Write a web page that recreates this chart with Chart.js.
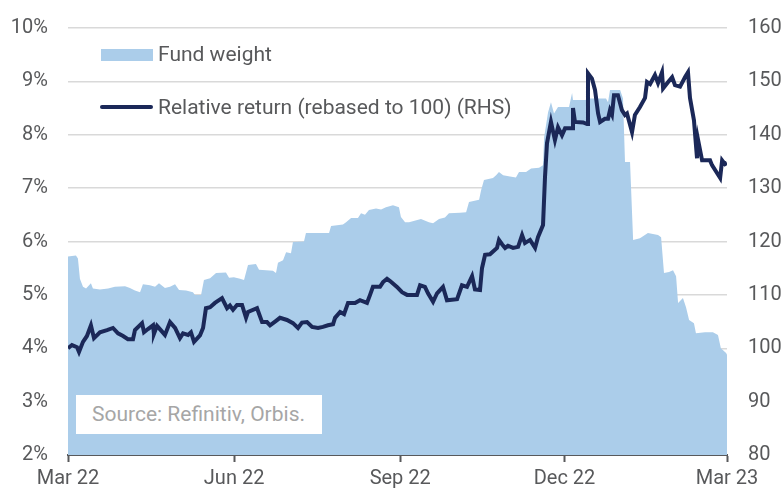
<!DOCTYPE html>
<html>
<head>
<meta charset="utf-8">
<script src="https://cdn.jsdelivr.net/npm/chart.js@4/dist/chart.umd.min.js"></script>
<style>
  body { margin: 0; background: #fff; }
  #wrap { position: relative; width: 781px; height: 489px; font-family: Roboto, sans-serif; }
  .legend-text { position: absolute; left: 158px; font-size: 21px; color: #58595b; line-height: 24px; }
  #src { position: absolute; left: 76px; top: 395px; width: 246px; height: 39px; background: #fff;
         font-size: 21px; color: #a6a6a6; line-height: 39px; padding-left: 16px; box-sizing: border-box; }
</style>
</head>
<body>
<div id="wrap">
  <canvas id="chart" width="781" height="489"></canvas>
  <div style="position:absolute;left:101px;top:49px;width:52px;height:12px;background:#abcdea;"></div>
  <div class="legend-text" style="top:42px;">Fund weight</div>
  <div style="position:absolute;left:100px;top:105px;width:53px;height:4px;border-radius:2px;background:#1b2858;"></div>
  <div class="legend-text" style="top:95px;">Relative return (rebased to 100) (RHS)</div>
  <div id="src">Source: Refinitiv, Orbis.</div>
</div>
<script>
// Days since 1 Mar 2022
const xTickDays = [0, 92, 184, 275, 365];
const xTickLabels = ["Mar 22", "Jun 22", "Sep 22", "Dec 22", "Mar 23"];

// Fund weight (%), left axis
const areaDays = [
  0, 4.4, 5.5, 6.6, 8.3, 10, 12.7, 13.8, 17.7, 22.2, 26, 31.6, 34.3, 37.1, 39.9, 41.5,
  45.4, 48.2, 50.4, 53.7, 56.5, 59.3, 61.5, 65.4, 69.2, 70.3, 73.7, 75.3, 78.7, 82,
  87.5, 89.2, 91.9, 95.3, 97.5, 99.7, 104.1, 105.8, 109.7, 113.5, 115.2, 116.3, 119.1,
  120.8, 123.5, 124.6, 130.7, 131.8, 144.6, 145.7, 152.3, 154, 156.8, 160.6, 162.3,
  164.5, 166.7, 170.6, 173.4, 176.1, 180, 183.3, 184.4, 186.7, 188.9, 195.5, 199.9,
  202.2, 205.5, 208.8, 211, 217.1, 220.5, 222.1, 227.7, 228.8, 230.4, 235.4, 237.1,
  238.7, 241, 244.8, 248.1, 249.8, 253.7, 256.5, 260.9, 263.1, 263.7, 265.9, 267.5,
  269.2, 271.4, 277.5, 279.2, 279.7, 286.9, 289.1, 298, 299.1, 300.2, 305.8, 307.4,
  308.5, 311.3, 313, 316.8, 321.2, 326.8, 328.5, 330.1, 332.9, 335.1, 336.8, 337.9,
  340.6, 342.3, 344, 346.7, 347.8, 352.8, 357.2, 360, 361.6, 364.5, 365
];
const areaWeight = [
  5.72, 5.74, 5.68, 5.3, 5.15, 5.12, 5.22, 5.12, 5.1, 5.12, 5.15, 5.16, 5.13, 5.08, 5.05, 5.2,
  5.18, 5.15, 5.22, 5.13, 5.15, 5.2, 5.09, 5.08, 5.05, 5.0, 5.0, 5.28, 5.31, 5.41,
  5.42, 5.32, 5.33, 5.3, 5.28, 5.56, 5.58, 5.47, 5.46, 5.45, 5.41, 5.6, 5.65,
  5.8, 5.78, 5.99, 6.0, 6.16, 6.16, 6.29, 6.32, 6.36, 6.44, 6.44, 6.53,
  6.5, 6.59, 6.62, 6.6, 6.64, 6.68, 6.64, 6.46, 6.36, 6.36, 6.42, 6.36,
  6.34, 6.42, 6.45, 6.53, 6.54, 6.55, 6.74, 6.78, 6.96, 7.15, 7.19, 7.24,
  7.3, 7.24, 7.22, 7.2, 7.3, 7.3, 7.37, 7.38, 7.43, 7.95, 8.42, 8.61,
  8.4, 8.52, 8.52, 8.78, 8.65, 8.65, 8.68, 8.68, 8.61, 8.84, 8.84, 8.68,
  7.49, 7.49, 6.03, 6.06, 6.16, 6.12, 6.08, 5.41, 5.43, 5.46, 5.35, 4.85,
  4.94, 4.77, 4.53, 4.47, 4.28, 4.3, 4.3, 4.25, 4.0, 3.91, 3.88
];

// Relative return, rebased to 100 (right axis)
const lineDays = [
  0, 2.2, 5, 6.1, 8.3, 10.5, 12.7, 14.4, 17.7, 21.6, 24.9, 27.7, 30.5, 33.2, 36, 37.1,
  41, 42.1, 44.3, 47.1, 47.6, 49.3, 53.7, 56.5, 59.3, 62, 63.7, 66.5, 68.1, 69.8, 73.1,
  74.8, 76.4, 78.7, 81.4, 85.3, 88.1, 89.7, 91.4, 93.6, 96.4, 98.6, 99.7, 104.7, 107.5,
  110.2, 111.9, 114.7, 117.4, 121.3, 124.6, 127.4, 129.6, 132.4, 135.2, 138.5, 141.2,
  144, 146.8, 147.9, 150.7, 152.9, 155.1, 159, 161.7, 165.6, 167.3, 168.9, 172.8, 174.5,
  176.7, 178.4, 182.2, 185, 187.8, 193.3, 195, 197.7, 199.4, 202.2, 204.4, 207.7, 209.9,
  215.5, 218.2, 221, 223.8, 225.4, 228.2, 229.3, 231, 233.7, 237.6, 238.7, 240.4, 242.1,
  243.7, 246.5, 249.3, 251.5, 253.1, 255.9, 258.7, 260.3, 263.1, 264.2, 265.3, 267.5,
  269.7, 271.4, 273.6, 275.3, 279.2, 279.7, 280.8, 285.3, 287.5, 288, 290.2, 291.9, 293.6,
  294.7, 297.4, 299.1, 300.2, 301.3, 302.4, 304.6, 306.8, 308.5, 309.6, 312.4, 314, 316.8,
  319.6, 320.7, 322.4, 325.1, 326.8, 329, 329.6, 332.4, 334.6, 336.2, 339, 341.8, 343.4,
  344.5, 346.7, 348.4, 349, 351.2, 355.6, 356.7, 361.2, 362.3, 363.9, 365
];
const lineReturn = [
  100.0, 100.6, 100.2, 99.3, 101.2, 102.3, 104.3, 101.9, 103.0, 103.4, 103.8, 102.8, 102.3, 101.7, 101.7, 103.4,
  104.7, 103.0, 103.6, 104.3, 102.7, 104.2, 102.5, 104.9, 103.8, 101.9, 102.8, 102.5, 103.0, 101.2, 102.4,
  103.8, 107.5, 107.7, 108.5, 109.4, 107.5, 108.0, 107.2, 108.1, 108.1, 105.7, 106.8, 107.5, 104.9,
  104.9, 104.3, 105.0, 105.7, 105.3, 104.7, 103.8, 104.8, 104.9, 104.0, 103.8, 104.0,
  104.3, 104.5, 105.7, 106.8, 106.4, 108.5, 108.5, 109.0, 108.5, 110.0, 111.5, 111.5, 112.4,
  113.0, 112.6, 111.5, 110.5, 110.0, 110.0, 111.8, 111.5, 110.3, 108.7, 110.3, 111.5, 109.0,
  109.2, 111.8, 111.5, 113.5, 111.0, 110.9, 115.0, 117.5, 117.6, 118.8, 120.3, 119.5, 118.8,
  119.2, 118.8, 119.0, 121.2, 119.7, 120.3, 118.8, 120.8, 123.1, 132.1, 138.4, 142.4,
  139.0, 141.4, 139.9, 141.2, 141.2, 145.0, 142.4, 142.3, 142.0, 151.5, 150.5, 148.4, 144.0,
  142.4, 143.0, 143.0, 144.6, 143.8, 147.4, 147.4, 144.6, 143.7, 144.0, 140.5, 143.7, 145.2,
  146.9, 149.9, 149.5, 151.2, 149.7, 151.7, 148.7, 149.9, 150.8, 149.3, 149.0, 150.8, 151.7,
  146.9, 142.7, 135.6, 139.0, 135.2, 135.2, 134.3, 131.9, 135.2, 134.5, 134.7
];

const tickColor = "#58595b";
const tickFont = { family: "Roboto", size: 20 };

const chart = new Chart(document.getElementById("chart"), {
  type: "line",
  data: {
    datasets: [
      {
        label: "Relative return (rebased to 100) (RHS)",
        data: lineDays.map((d, i) => ({ x: d, y: lineReturn[i] })),
        yAxisID: "y1",
        borderColor: "#1b2858",
        borderWidth: 4,
        pointRadius: 0,
        tension: 0,
        fill: false,
        order: 1,
      },
      {
        label: "Fund weight",
        data: areaDays.map((d, i) => ({ x: d, y: areaWeight[i] })),
        yAxisID: "y",
        backgroundColor: "#abcdea",
        borderWidth: 0,
        pointRadius: 0,
        tension: 0,
        fill: "origin",
        order: 2,
      },
    ],
  },
  options: {
    responsive: false,
    animation: false,
    layout: { padding: { top: 28, left: 0, right: 0, bottom: 0 } },
    plugins: {
      legend: { display: false },
      tooltip: { enabled: false },
    },
    scales: {
      x: {
        type: "linear",
        min: 0,
        max: 365,
        afterBuildTicks: function (scale) {
          scale.ticks = xTickDays.map((v) => ({ value: v }));
        },
        afterFit: function (scale) {
          scale.height = 34;
        },
        ticks: {
          color: tickColor,
          font: tickFont,
          padding: 5,
          maxRotation: 0,
          autoSkip: false,
          callback: function (value) {
            const i = xTickDays.indexOf(value);
            return i >= 0 ? xTickLabels[i] : "";
          },
        },
        grid: {
          drawOnChartArea: false,
          drawTicks: true,
          tickLength: 7,
          tickWidth: 2,
          tickColor: "#58595b",
        },
        border: { display: true, color: "#58595b", width: 2 },
      },
      y: {
        position: "left",
        min: 2,
        max: 10,
        afterFit: function (scale) {
          scale.width = 68;
        },
        ticks: {
          stepSize: 1,
          color: tickColor,
          font: tickFont,
          padding: 2,
          callback: function (value) {
            return value + "%";
          },
        },
        // invisible tick marks push the labels out without adding top padding
        grid: {
          color: "#d9d9d9",
          lineWidth: 1.5,
          drawTicks: true,
          tickLength: 18,
          tickColor: "transparent",
        },
        border: { display: false },
      },
      y1: {
        position: "right",
        min: 80,
        max: 160,
        afterFit: function (scale) {
          scale.width = 54;
        },
        ticks: {
          stepSize: 10,
          color: tickColor,
          font: tickFont,
          padding: 2,
        },
        grid: {
          drawOnChartArea: false,
          drawTicks: true,
          tickLength: 19,
          tickColor: "transparent",
        },
        border: { display: false },
      },
    },
  },
});
</script>
</body>
</html>
